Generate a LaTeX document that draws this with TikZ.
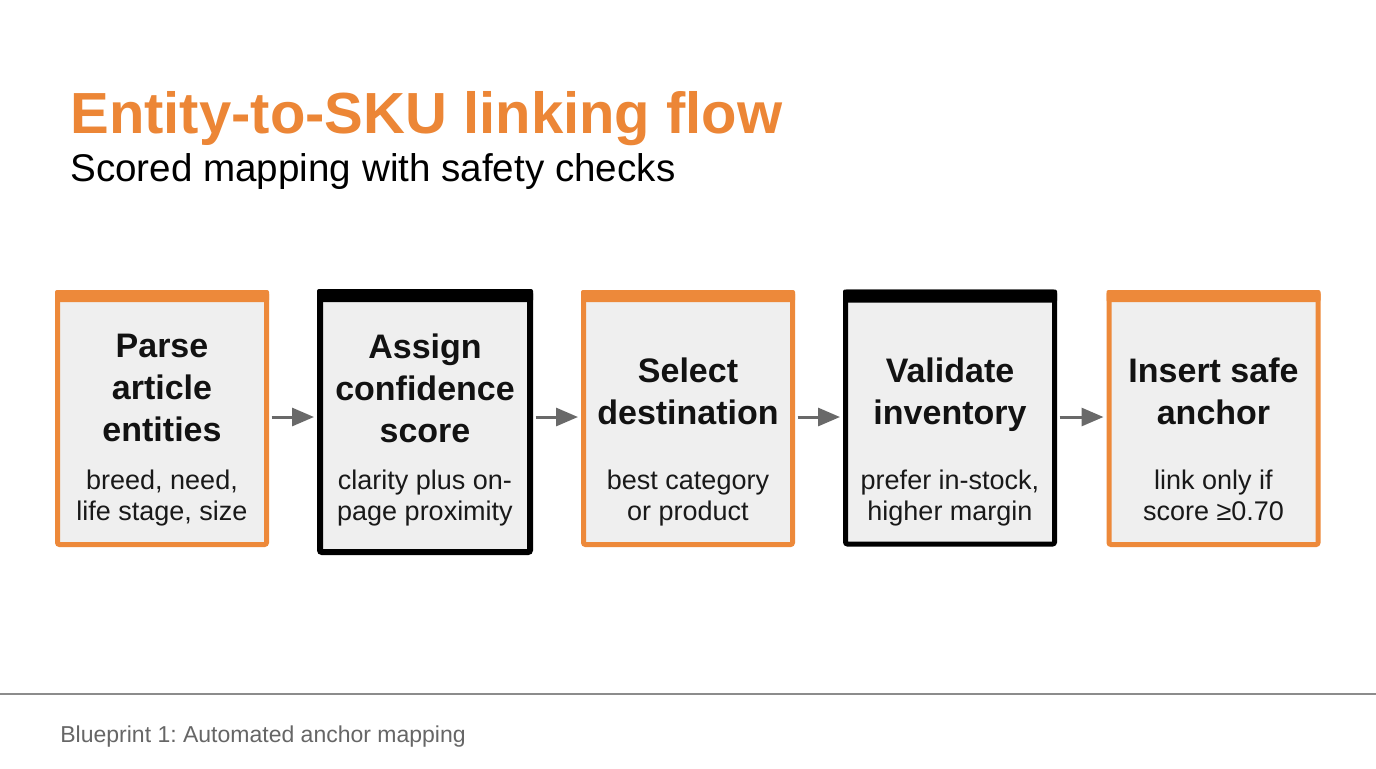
\documentclass[tikz,border=0pt]{standalone}
\usepackage{fontspec}
\setmainfont{Liberation Sans}
\frenchspacing
\usetikzlibrary{arrows.meta}
\definecolor{floworange}{RGB}{237,137,58}
\definecolor{titleorange}{RGB}{236,134,54}
\definecolor{boxgray}{RGB}{239,239,239}
\definecolor{arrowgray}{RGB}{105,105,105}
\definecolor{footgray}{RGB}{102,102,102}
\definecolor{rulegray}{RGB}{140,140,140}
\tikzset{
	stepstyle/.style={rectangle,fill=boxgray,line width=2.5pt,rounded corners=1pt,minimum width=104.5pt,minimum height=126pt},
	orangestyle/.style={stepstyle,draw=floworange},
	blackstyle/.style={stepstyle,draw=black},
	headstyle/.style={anchor=north,align=center,inner sep=0pt,font=\bfseries\fontsize{17}{21}\selectfont,text=black!93},
	notestyle/.style={anchor=north,align=center,inner sep=0pt,font=\fontsize{13.5}{15.5}\selectfont,text=black!90},
	flowarrow/.style={draw=arrowgray,line width=1.5pt,-{Triangle[length=11pt,width=9pt]},shorten <=1.25pt,shorten >=1.5pt}
}

\begin{document}
\begin{tikzpicture}[x=0.5pt,y=-0.5pt]
		\fill[white] (0,0) rectangle (1376,768);
		\useasboundingbox (0,0) rectangle (1376,768);
		% heading
		\node[anchor=base west,inner sep=0pt,text=titleorange,font=\bfseries\fontsize{29}{34}\selectfont] (title) at (70,133) {Entity-to-SKU linking flow};
		\node[anchor=base west,inner sep=0pt,font=\fontsize{19.3}{23}\selectfont] (subtitle) at (70,181) {Scored mapping with safety checks};
		% steps
		\node[orangestyle] (b1) at (162,418.5) {};
		\node[blackstyle,line width=3pt,minimum width=105pt,minimum height=130pt] (b2) at (425,422) {};
		\node[orangestyle] (b3) at (688,418.5) {};
		\node[blackstyle] (b4) at (950,418) {};
		\node[orangestyle] (b5) at (1213.5,418.5) {};
		\fill[floworange,rounded corners=1pt] (b1.north west) rectangle ([yshift=-6pt]b1.north east);
		\fill[black,rounded corners=1pt] (b2.north west) rectangle ([yshift=-6.5pt]b2.north east);
		\fill[floworange,rounded corners=1pt] (b3.north west) rectangle ([yshift=-6pt]b3.north east);
		\fill[black,rounded corners=1pt] (b4.north west) rectangle ([yshift=-6.5pt]b4.north east);
		\fill[floworange,rounded corners=1pt] (b5.north west) rectangle ([yshift=-6pt]b5.north east);
		\node[headstyle] (t1) at (162,334) {Parse\\article\\entities};
		\node[headstyle] (t2) at (425,333) {Assign\\confidence\\score};
		\node[headstyle] (t3) at (688,357) {Select\\destination};
		\node[headstyle] (t4) at (950,357) {Validate\\inventory};
		\node[headstyle] (t5) at (1213.5,357) {Insert safe\\anchor};
		\node[notestyle] (n1) at (162,470) {breed, need,\\life stage, size};
		\node[notestyle] (n2) at (425,470) {clarity plus on-\\page proximity};
		\node[notestyle] (n3) at (688,470) {best category\\or product};
		\node[notestyle] (n4) at (950,470) {prefer in-stock,\\higher margin};
		\node[notestyle] (n5) at (1213.5,470) {link only if\\score ≥0.70};
		\draw[flowarrow] (b1.east |- 0,417) -- (b2.west |- 0,417);
		\draw[flowarrow] (b2.east |- 0,417) -- (b3.west |- 0,417);
		\draw[flowarrow] (b3.east |- 0,417) -- (b4.west |- 0,417);
		\draw[flowarrow] (b4.east |- 0,417) -- (b5.west |- 0,417);
		% footer
		\coordinate (ruleL) at (0,694);
		\coordinate (ruleR) at (1376,694);
		\draw[rulegray,line width=1pt] (ruleL) -- (ruleR);
		\node[anchor=base west,inner sep=0pt,text=footgray,font=\fontsize{11.5}{14}\selectfont] (footer) at (60,742) {Blueprint 1: Automated anchor mapping};
\end{tikzpicture}
\end{document}
